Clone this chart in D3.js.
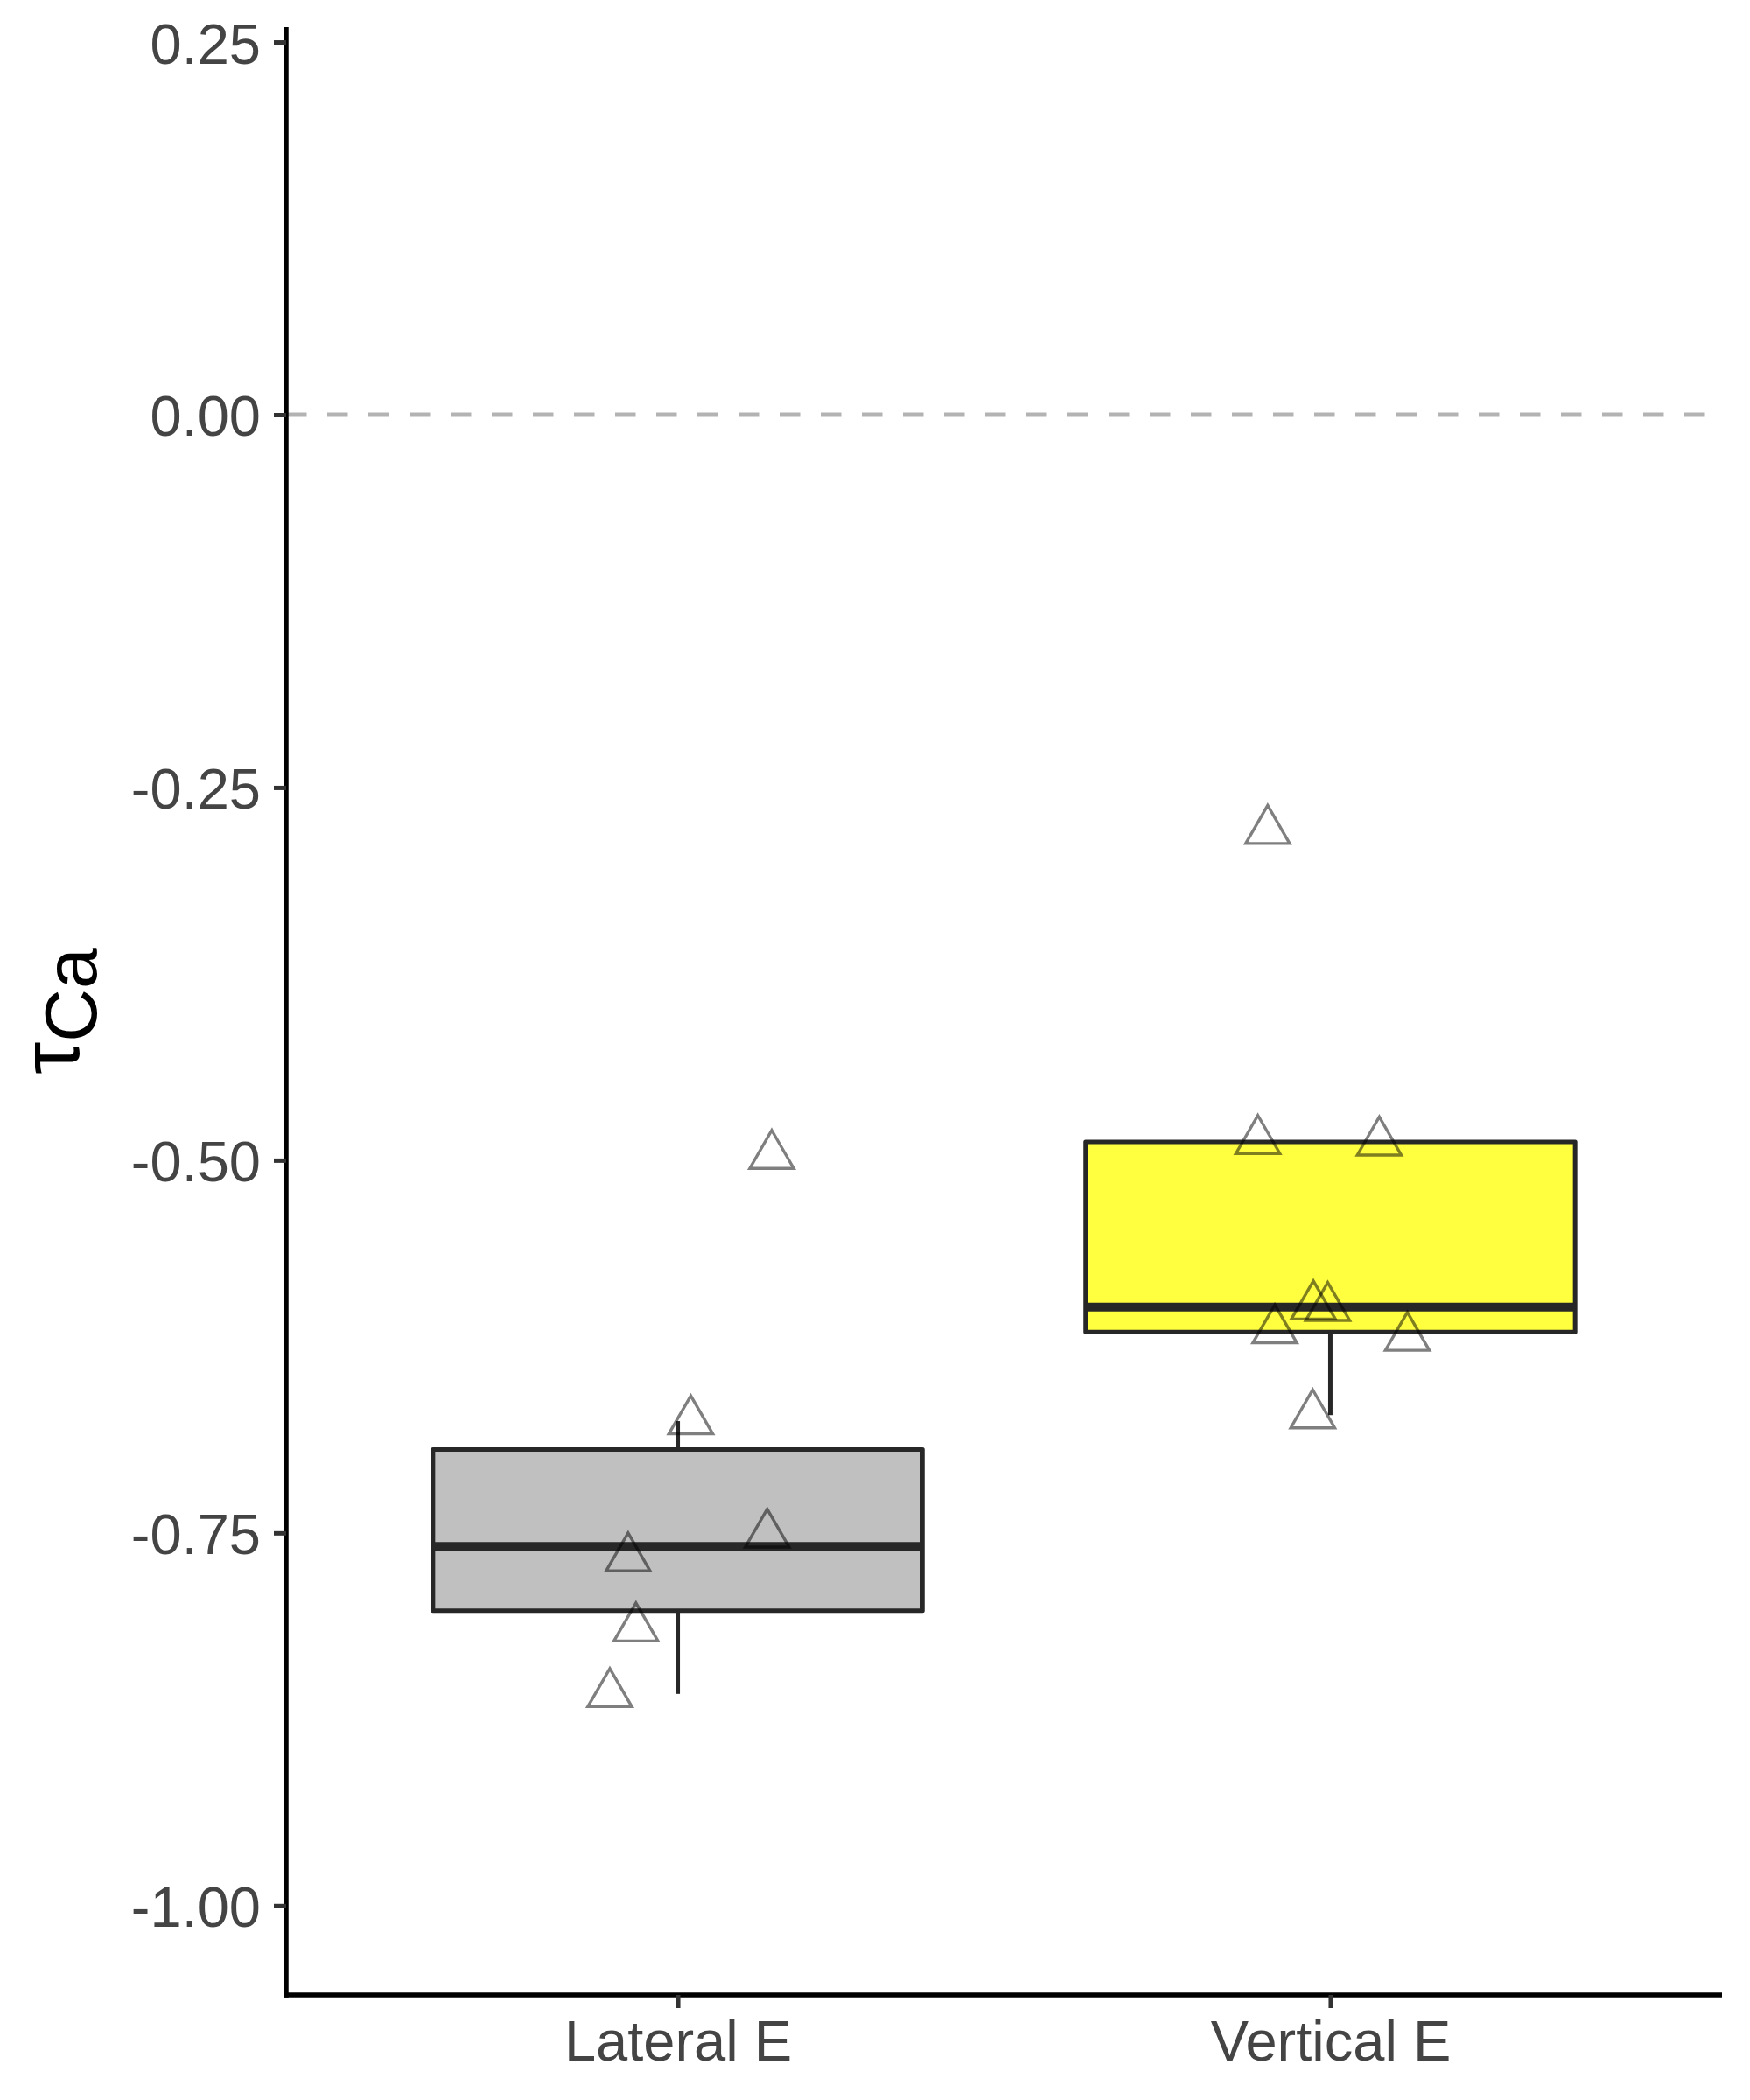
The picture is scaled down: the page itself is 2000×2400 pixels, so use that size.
<!DOCTYPE html>
<html>
<head>
<meta charset="utf-8">
<script src="https://cdn.jsdelivr.net/npm/d3@7"></script>
<style>
  html, body { margin: 0; padding: 0; background: #ffffff; }
  svg { display: block; }
  text { font-family: "Liberation Sans", Arial, Helvetica, sans-serif; }
</style>
</head>
<body>
<svg id="chart" width="2000" height="2400"></svg>
<script>
// ---- data ----
const categories = ["Lateral E", "Vertical E"];
const boxFills = ["#C0C0C0", "#FFFF40"];
const lateralValues = [-0.497, -0.675, -0.751, -0.767, -0.814, -0.858];
const lateralJitter = [1.144, 1.020, 1.137, 0.924, 0.936, 0.896];
const verticalValues = [-0.279, -0.487, -0.488, -0.598, -0.599, -0.614, -0.619, -0.671];
const verticalJitter = [1.904, 1.889, 2.075, 1.974, 1.996, 1.915, 2.118, 1.973];
const yTicks = [0.25, 0.00, -0.25, -0.50, -0.75, -1.00];
const yLimits = [-1.0, 0.2];
const refLine = 0;

// ---- layout ----
const W = 2000, H = 2400;
const panel = { left: 327, right: 1968, top: 31, bottom: 2280 };
const svg = d3.select("#chart");

const span = yLimits[1] - yLimits[0];
const y = d3.scaleLinear()
  .domain([yLimits[0] - 0.05 * span, yLimits[1] + 0.05 * span])
  .range([panel.bottom, panel.top]);
const x = d3.scaleLinear()
  .domain([0.4, 2.6])
  .range([panel.left, panel.right]);

const groups = [
  { name: categories[0], values: lateralValues, jitter: lateralJitter, fill: boxFills[0], pos: 1 },
  { name: categories[1], values: verticalValues, jitter: verticalJitter, fill: boxFills[1], pos: 2 }
];

function boxStats(vals) {
  const s = vals.slice().sort(d3.ascending);
  const q1 = d3.quantile(s, 0.25), med = d3.quantile(s, 0.5), q3 = d3.quantile(s, 0.75);
  const iqr = q3 - q1;
  const hiFence = q3 + 1.5 * iqr, loFence = q1 - 1.5 * iqr;
  const upper = d3.max(s.filter(v => v <= hiFence));
  const lower = d3.min(s.filter(v => v >= loFence));
  return { q1, med, q3, upper, lower };
}

// reference dashed line at 0
svg.append("line")
  .attr("x1", panel.left).attr("x2", panel.right)
  .attr("y1", y(refLine)).attr("y2", y(refLine))
  .attr("stroke", "#B3B3B3").attr("stroke-width", 5)
  .attr("stroke-dasharray", "23.5,23.5");

// boxes
const boxW = 0.75;
const boxColor = "#272727";
groups.forEach(g => {
  const st = boxStats(g.values);
  const xl = x(g.pos - boxW / 2), xr = x(g.pos + boxW / 2), xc = x(g.pos);
  const gg = svg.append("g");
  // whiskers
  gg.append("line").attr("x1", xc).attr("x2", xc)
    .attr("y1", y(st.q3)).attr("y2", y(st.upper))
    .attr("stroke", boxColor).attr("stroke-width", 5);
  gg.append("line").attr("x1", xc).attr("x2", xc)
    .attr("y1", y(st.q1)).attr("y2", y(st.lower))
    .attr("stroke", boxColor).attr("stroke-width", 5);
  // box
  gg.append("rect")
    .attr("x", xl).attr("y", y(st.q3))
    .attr("width", xr - xl).attr("height", y(st.q1) - y(st.q3))
    .attr("fill", g.fill).attr("stroke", boxColor).attr("stroke-width", 5)
    .attr("stroke-linejoin", "round");
  // median
  gg.append("line").attr("x1", xl).attr("x2", xr)
    .attr("y1", y(st.med)).attr("y2", y(st.med))
    .attr("stroke", boxColor).attr("stroke-width", 10);
});

// jittered points (open triangles)
const r = 29;
const tri = (cx, cy) => {
  const hw = r * Math.sqrt(3) / 2;
  return `M${cx},${cy - r}L${cx + hw},${cy + r / 2}L${cx - hw},${cy + r / 2}Z`;
};
groups.forEach(g => {
  svg.append("g").selectAll("path")
    .data(g.values.map((v, i) => ({ v, j: g.jitter[i] })))
    .join("path")
    .attr("d", d => tri(x(d.j), y(d.v)))
    .attr("fill", "none")
    .attr("stroke", "#000000").attr("stroke-opacity", 0.5)
    .attr("stroke-width", 3.4).attr("stroke-linejoin", "miter");
});

// y axis
const fmt = v => d3.format(".2f")(v).replace("\u2212", "-");
const yAxis = d3.axisLeft(y).tickValues(yTicks).tickFormat(fmt).tickSizeOuter(0).tickSize(14).tickPadding(15);
const yG = svg.append("g").attr("transform", `translate(${panel.left},0)`).call(yAxis);
yG.select(".domain").attr("stroke", "#000").attr("stroke-width", 5.5).attr("d", `M0,${panel.top}V${panel.bottom + 2.75}`);
yG.selectAll(".tick line").attr("stroke", "#333333").attr("stroke-width", 5);
yG.selectAll(".tick text").attr("fill", "#444444").attr("font-size", 65)
  .attr("dy", null).attr("y", 24).attr("font-family", "'Liberation Sans', Arial, sans-serif");

// x axis
const xAxis = d3.axisBottom(x).tickValues([1, 2]).tickFormat(d => categories[d - 1]).tickSizeOuter(0).tickSize(15);
const xG = svg.append("g").attr("transform", `translate(0,${panel.bottom})`).call(xAxis);
xG.select(".domain").attr("stroke", "#000").attr("stroke-width", 5.5).attr("d", `M${panel.left - 2.75},0H${panel.right}`);
xG.selectAll(".tick line").attr("stroke", "#333333").attr("stroke-width", 5);
xG.selectAll(".tick text").attr("fill", "#444444").attr("font-size", 65)
  .attr("dy", null).attr("y", 75).attr("font-family", "'Liberation Sans', Arial, sans-serif");

// y axis title: tau subscript Ca
const title = svg.append("text")
  .attr("transform", `translate(90,${(panel.top + panel.bottom) / 2}) rotate(-90)`)
  .attr("text-anchor", "middle")
  .attr("fill", "#000");
title.append("tspan").attr("font-size", 94).text("τ");
title.append("tspan").attr("font-size", 84).attr("dy", 20).text("Ca");
</script>
</body>
</html>
